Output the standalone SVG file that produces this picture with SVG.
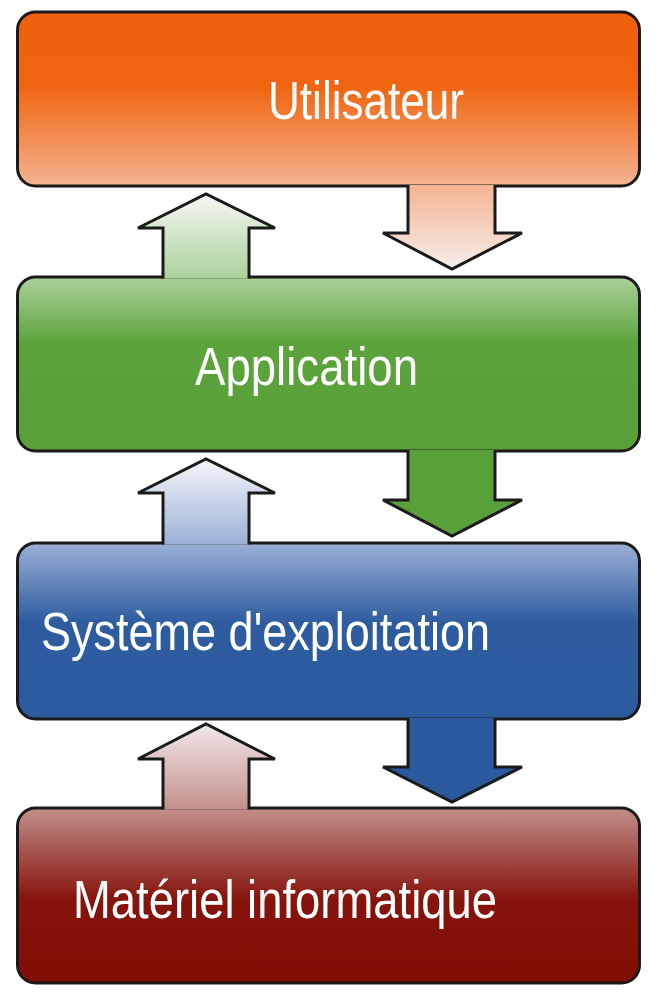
<svg xmlns="http://www.w3.org/2000/svg" width="660" height="994" viewBox="0 0 660 994">
  <style>
    .box { stroke: #1a1a1a; stroke-width: 3; }
    .arrow { stroke: #1a1a1a; stroke-width: 3; stroke-linejoin: miter; }
    .label { font-family: "Liberation Sans", Arial, sans-serif; font-size: 53px; fill: #ffffff; }
  </style>
  <defs>
    <linearGradient id="gBox1" x1="0" y1="0" x2="0" y2="1">
      <stop offset="0" stop-color="#F0600E"/>
      <stop offset="0.42" stop-color="#F0640F"/>
      <stop offset="1" stop-color="#F4B391"/>
    </linearGradient>
    <linearGradient id="gBox2" x1="0" y1="0" x2="0" y2="1">
      <stop offset="0" stop-color="#AAD19B"/>
      <stop offset="0.38" stop-color="#5DA33C"/>
      <stop offset="1" stop-color="#5AA03A"/>
    </linearGradient>
    <linearGradient id="gBox3" x1="0" y1="0" x2="0" y2="1">
      <stop offset="0" stop-color="#9BB0D6"/>
      <stop offset="0.45" stop-color="#2E5C9F"/>
      <stop offset="1" stop-color="#2B5A9E"/>
    </linearGradient>
    <linearGradient id="gBox4" x1="0" y1="0" x2="0" y2="1">
      <stop offset="0" stop-color="#C28F8B"/>
      <stop offset="0.52" stop-color="#86140C"/>
      <stop offset="1" stop-color="#800E05"/>
    </linearGradient>
    <linearGradient id="gDown1" x1="0" y1="0" x2="0" y2="1">
      <stop offset="0" stop-color="#F3B493"/>
      <stop offset="1" stop-color="#F6EEEA"/>
    </linearGradient>
    <linearGradient id="gUp1" x1="0" y1="0" x2="0" y2="1">
      <stop offset="0" stop-color="#F6F8F4"/>
      <stop offset="1" stop-color="#AAD19B"/>
    </linearGradient>
    <linearGradient id="gUp2" x1="0" y1="0" x2="0" y2="1">
      <stop offset="0" stop-color="#F4F6FA"/>
      <stop offset="1" stop-color="#9BB0D6"/>
    </linearGradient>
    <linearGradient id="gUp3" x1="0" y1="0" x2="0" y2="1">
      <stop offset="0" stop-color="#F2E8E8"/>
      <stop offset="1" stop-color="#C28F8B"/>
    </linearGradient>
  </defs>

  <g id="node-utilisateur">
    <rect class="box" x="17.5" y="12" width="622" height="174" rx="18" ry="18" fill="url(#gBox1)"/>
    <text class="label" x="268" y="119" textLength="196" lengthAdjust="spacingAndGlyphs">Utilisateur</text>
  </g>
  <g id="node-application">
    <rect class="box" x="17.5" y="277" width="622" height="174" rx="18" ry="18" fill="url(#gBox2)"/>
    <text class="label" x="195" y="385" textLength="223" lengthAdjust="spacingAndGlyphs">Application</text>
  </g>
  <g id="node-systeme">
    <rect class="box" x="17.5" y="543" width="622" height="176" rx="18" ry="18" fill="url(#gBox3)"/>
    <text class="label" x="41" y="650" textLength="449" lengthAdjust="spacingAndGlyphs">Système d'exploitation</text>
  </g>
  <g id="node-materiel">
    <rect class="box" x="17.5" y="808" width="622" height="175" rx="18" ry="18" fill="url(#gBox4)"/>
    <text class="label" x="73" y="918" textLength="424" lengthAdjust="spacingAndGlyphs">Matériel informatique</text>
  </g>

  <g id="connectors">
    <path class="arrow" fill="url(#gDown1)" d="M408,185 L408,233 L383,233 L452,269 L522,233 L495,233 L495,185"/>
    <path class="arrow" fill="url(#gUp1)" d="M163,278.5 L163,228 L138,228 L206,194 L275,228 L249,228 L249,278.5"/>
    <path class="arrow" fill="#5AA03A" d="M408,450 L408,500 L383,500 L452,536 L522,500 L495,500 L495,450"/>
    <path class="arrow" fill="url(#gUp2)" d="M163,544.5 L163,493 L138,493 L206,459 L275,493 L249,493 L249,544.5"/>
    <path class="arrow" fill="#2B5A9E" d="M408,718 L408,767 L383,767 L452,802 L522,767 L495,767 L495,718"/>
    <path class="arrow" fill="url(#gUp3)" d="M163,809.5 L163,759 L138,759 L206,724 L275,759 L249,759 L249,809.5"/>
  </g>
</svg>
